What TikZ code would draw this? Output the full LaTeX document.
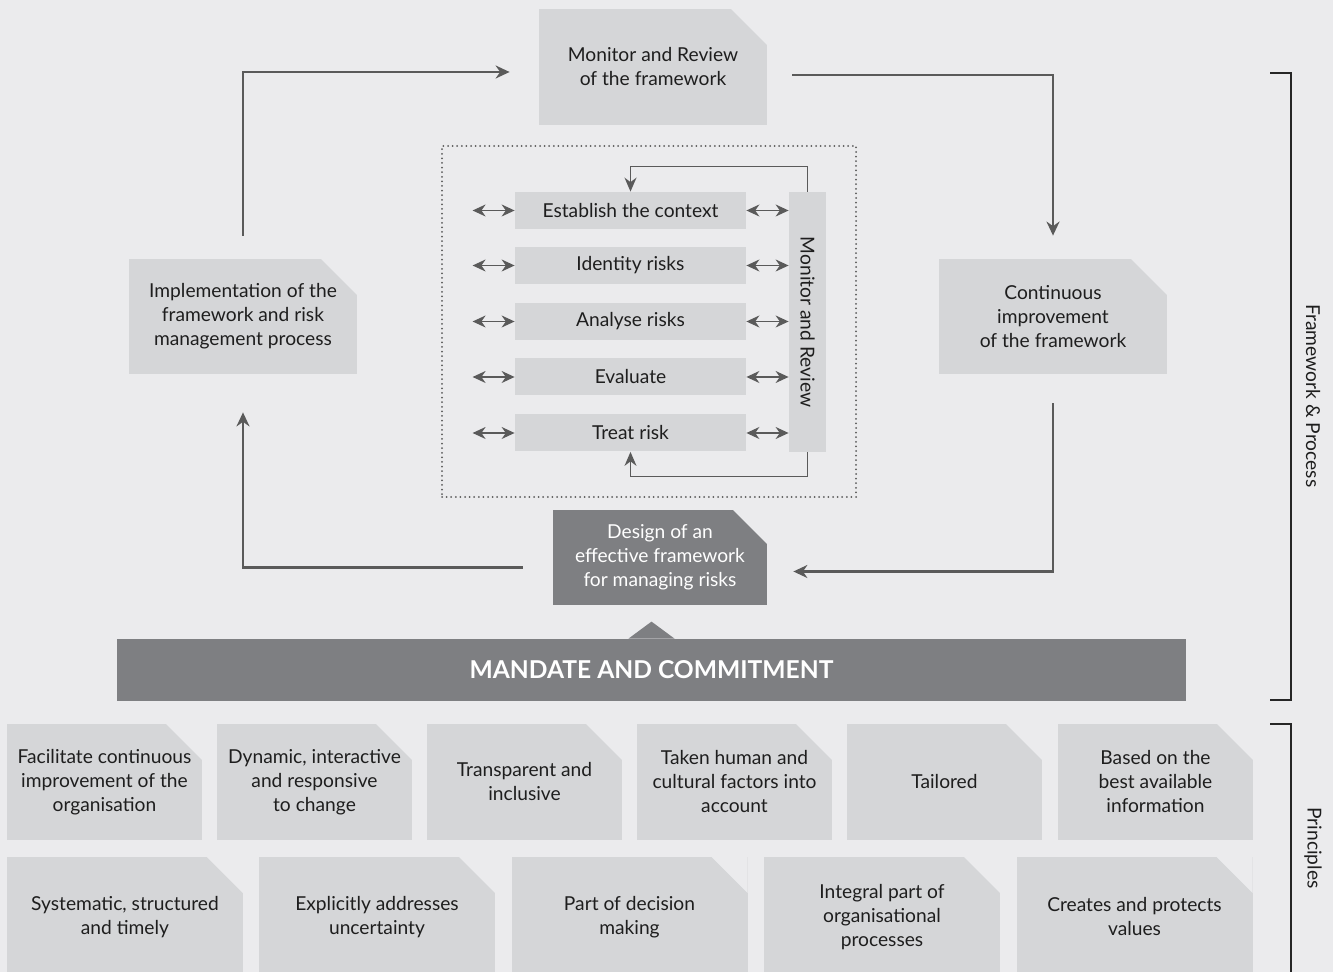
\documentclass[tikz,border=0pt]{standalone}
\usepackage{fontspec}
\setmainfont{Lato}
\usetikzlibrary{arrows.meta}
\definecolor{bgc}{HTML}{EBEBED}
\definecolor{boxc}{HTML}{D5D6D8}
\definecolor{darkc}{HTML}{7E7F82}
\definecolor{linec}{HTML}{5A5A5A}
\definecolor{txtc}{HTML}{1E1E1E}

\begin{document}
\begin{tikzpicture}[x=0.5pt,y=-0.5pt,font=\fontsize{9.6}{12}\selectfont,
   folded/.style={path picture={\fill[bgc] (path picture bounding box.north east) -- ++(-#1,0) -- ++(#1,-#1) -- cycle;}},
   folded/.default=18pt,
   fbox/.style n args={2}{fill=boxc,text=txtc,align=center,inner sep=0pt,folded,minimum width=#1,minimum height=#2},
   stepbox/.style={fill=boxc,text=txtc,inner sep=0pt,minimum width=115.5pt,minimum height=18.5pt},
   flow/.style={draw=linec,line width=1.1pt,-{Stealth[length=7pt,width=6.5pt]}},
   fb/.style={draw=linec,line width=0.7pt,-{Stealth[length=7pt,width=6pt]}},
   dbl/.style={draw=linec,line width=0.7pt,{Stealth[length=6.5pt,width=6pt]}-{Stealth[length=6.5pt,width=6pt]}},
   brk/.style={draw=black!85,line width=0.6pt}]
\fill[bgc] (0,0) rectangle (1333,972);
\useasboundingbox (0,0) rectangle (1333,972);

% framework cycle
\node[fbox={114pt}{58pt}] (mon) at (653,67) {Monitor and Review\\of the framework};
\node[fbox={114pt}{57.5pt}] (impl) at (243,316.5) {Implementation of the\\framework and risk\\management process};
\node[fbox={114pt}{57.5pt}] (cont) at (1053,316.5) {Continuous\\improvement\\of the framework};
\node[fbox={107pt}{47.5pt},fill=darkc,text=white,folded=17pt] (design) at (660,557.5) {Design of an\\effective framework\\for managing risks};

\draw[flow,shorten <=11.5pt,shorten >=14.5pt] (impl.north) |- ([yshift=-2.5pt]mon.west);
\draw[flow,shorten <=12.5pt,shorten >=11.5pt] ([yshift=-4pt]mon.east) -| (cont.north);
\draw[flow,shorten <=14.5pt,shorten >=13pt] (cont.south) |- ([yshift=-7pt]design.east);
\draw[flow,shorten <=15pt,shorten >=19pt] ([yshift=-5pt]design.west) -| (impl.south);

% process
\node[draw=linec,line width=1pt,line cap=round,dash pattern=on 0pt off 2.3pt,minimum width=207pt,minimum height=175.5pt] (frame) at (649,321.5) {};
\node[fill=boxc,text=txtc,inner sep=0pt,rotate=-90,minimum width=130pt,minimum height=18.5pt] (mr) at (807.5,322) {Monitor and Review};
\foreach \y/\t [count=\i] in {210.5/Establish the context,265.5/Identity risks,321.5/Analyse risks,377/Evaluate,433/Treat risk}{
   \node[stepbox] (s\i) at (630.5,\y) {\t};
   \draw[dbl] ([xshift=-21pt]s\i.west) -- (s\i.west);
   \draw[dbl] (s\i.east) -- (s\i.east -| mr.south);
}
\draw[fb] (mr.west) -- ++(0,12.5pt) -| (s1.north);
\draw[fb] (mr.east) -- ++(0,-12pt) -| (s5.south);

% mandate
\node[fill=darkc,text=white,font=\fontsize{12.3}{14}\selectfont\bfseries,minimum width=534.5pt,minimum height=31pt,inner sep=0pt] (mandate) at (651.5,670) {MANDATE AND COMMITMENT};
\fill[darkc] ([xshift=-11.5pt]mandate.north) -- ([yshift=8.5pt]mandate.north) -- ([xshift=11.5pt]mandate.north) -- cycle;

% principles
\foreach \x/\t [count=\i] in {104.5/{Facilitate continuous\\improvement of the\\organisation},314.5/{Dynamic, interactive\\and responsive\\to change},524.5/{Transparent and\\inclusive},734.5/{Taken human and\\cultural factors into\\account},944.5/Tailored,1155.5/{Based on the\\best available\\information}}{
   \node[fbox={97.5pt}{58pt}] (pa\i) at (\x,782) {\t};
}
\foreach \x/\t [count=\i] in {125/{Systematic, structured\\and timely},377/{Explicitly addresses\\uncertainty},629.5/{Part of decision\\making},882/{Integral part of\\organisational\\processes},1134.5/{Creates and protects\\values}}{
   \node[fbox={118pt}{60pt}] (pb\i) at (\x,917) {\t};
}

% brackets
\draw[brk] (1270,73) -- (1291,73) -- (1291,700) -- (1270,700);
\draw[brk] (1270,724) -- (1291,724) -- (1291,972);
\node[rotate=-90,text=txtc] (lblfp) at (1313,396) {Framework \& Process};
\node[rotate=-90,text=txtc] (lblpr) at (1313,848) {Principles};
\end{tikzpicture}
\end{document}
